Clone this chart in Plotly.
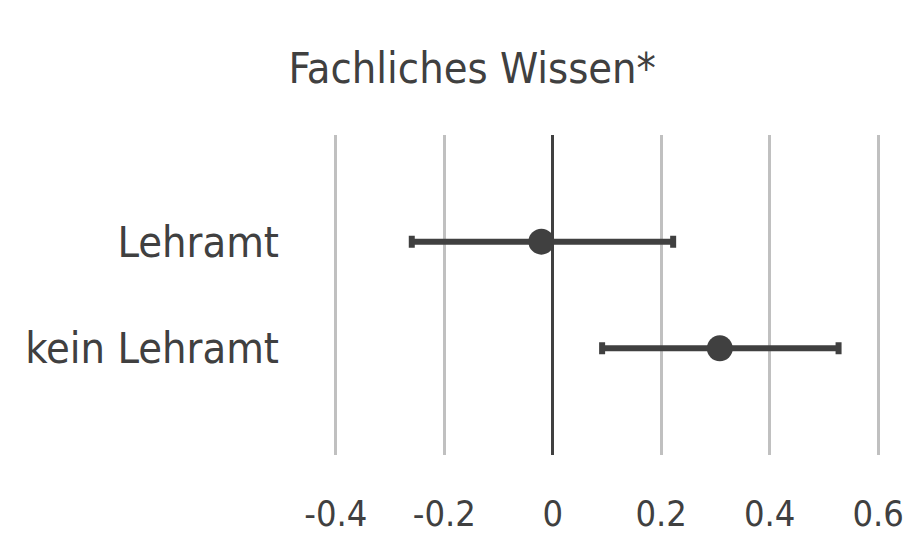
import plotly.graph_objects as go

# Group means with their confidence interval bounds
groups = ["Lehramt", "kein Lehramt"]
means = [-0.021, 0.308]
ci_low = [-0.26, 0.091]
ci_high = [0.222, 0.527]

tick_vals = [-0.4, -0.2, 0, 0.2, 0.4, 0.6]
tick_text = ["-0.4", "-0.2", "0", "0.2", "0.4", "0.6"]

DARK = "#404040"
GRID = "#c0c0c0"
FONT = "Liberation Sans Narrow, DejaVu Sans Condensed, Roboto, sans-serif"
SIZE = 43
TICK_SIZE = 36

err_plus = [h - m for h, m in zip(ci_high, means)]
err_minus = [m - l for m, l in zip(means, ci_low)]

fig = go.Figure(
    go.Scatter(
        x=means,
        y=groups,
        mode="markers",
        marker=dict(size=26, color=DARK),
        error_x=dict(
            type="data",
            symmetric=False,
            array=err_plus,
            arrayminus=err_minus,
            color=DARK,
            thickness=6,
            width=6,
        ),
        showlegend=False,
    )
)

fig.update_layout(
    width=903,
    height=536,
    paper_bgcolor="white",
    plot_bgcolor="white",
    margin=dict(l=325, r=14, t=135, b=81),
    font=dict(family=FONT, color=DARK, size=SIZE),
    title=dict(
        text="Fachliches Wissen*",
        x=0.523,
        xanchor="center",
        y=0.873,
        yanchor="middle",
        font=dict(family=FONT, size=SIZE, color=DARK),
    ),
    xaxis=dict(
        range=[-0.42, 0.62],
        tickvals=tick_vals,
        ticktext=tick_text,
        tickangle=0,
        automargin=False,
        ticklabeloverflow="allow",
        showgrid=True,
        gridcolor=GRID,
        gridwidth=3,
        zeroline=True,
        zerolinecolor=DARK,
        zerolinewidth=3,
        showline=False,
        ticks="",
        ticklabelstandoff=34,
        tickfont=dict(size=TICK_SIZE),
    ),
    yaxis=dict(
        type="category",
        categoryorder="array",
        categoryarray=groups,
        range=[2, -1],
        automargin=False,
        showgrid=False,
        zeroline=False,
        showline=False,
        ticks="",
        ticklabelstandoff=45,
        tickfont=dict(size=SIZE),
    ),
)

fig.write_html("out.html")
